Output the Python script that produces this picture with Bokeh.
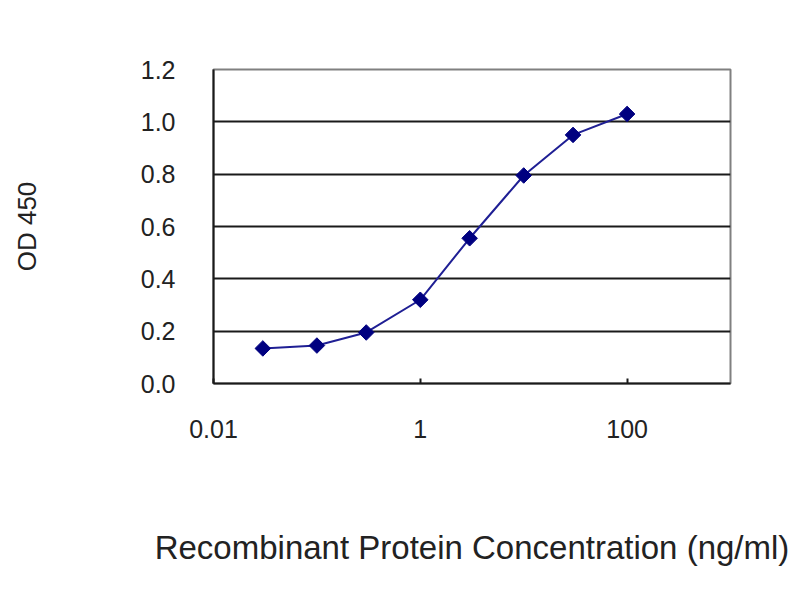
from bokeh.plotting import figure
from bokeh.models import FixedTicker, NumeralTickFormatter, Range1d
from bokeh.embed import file_html
from bokeh.resources import INLINE

# Data
concentration = [0.03, 0.1, 0.3, 1, 3, 10, 30, 100]
od450 = [0.134, 0.145, 0.195, 0.32, 0.555, 0.795, 0.95, 1.03]

x_tick_values = [0.01, 1, 100]
x_tick_labels = ["0.01", "1", "100"]
y_tick_values = [0.0, 0.2, 0.4, 0.6, 0.8, 1.0, 1.2]

x_title = "Recombinant Protein Concentration (ng/ml)"
y_title = "OD 450"

FONT = "Liberation Sans"
TEXT = "#222222"

p = figure(width=792, height=592, x_axis_type="log",
           x_range=Range1d(0.01, 1000), y_range=Range1d(0, 1.2),
           output_backend="svg", toolbar_location=None,
           min_border_left=213, min_border_right=62,
           min_border_top=69, min_border_bottom=209)

p.background_fill_color = "white"
p.border_fill_color = "white"
p.outline_line_color = "#808080"
p.outline_line_width = 2

# grid
p.xgrid.grid_line_color = None
p.ygrid.ticker = FixedTicker(ticks=y_tick_values)
p.ygrid.grid_line_color = "#1a1a1a"
p.ygrid.grid_line_width = 2

# x axis
xa = p.xaxis[0]
xa.ticker = FixedTicker(ticks=x_tick_values, minor_ticks=[])
xa.major_label_overrides = {v: l for v, l in zip(x_tick_values, x_tick_labels)}
xa.major_tick_in = 5
xa.major_tick_out = 0
xa.major_tick_line_color = "#1a1a1a"
xa.major_tick_line_width = 2
xa.minor_tick_line_color = None
xa.axis_line_color = "#1a1a1a"
xa.axis_line_width = 2
xa.major_label_text_font = FONT
xa.major_label_text_font_size = "25px"
xa.major_label_text_color = TEXT
xa.major_label_standoff = 36
xa.axis_label = x_title
xa.axis_label_text_font = FONT
xa.axis_label_text_font_size = "33px"
xa.axis_label_text_font_style = "normal"
xa.axis_label_text_color = TEXT
xa.axis_label_standoff = 88

# y axis
ya = p.yaxis[0]
ya.ticker = FixedTicker(ticks=y_tick_values, minor_ticks=[])
ya.formatter = NumeralTickFormatter(format="0.0")
ya.major_tick_in = 0
ya.major_tick_out = 0
ya.minor_tick_line_color = None
ya.axis_line_color = "#1a1a1a"
ya.axis_line_width = 2
ya.major_label_text_font = FONT
ya.major_label_text_font_size = "25px"
ya.major_label_text_color = TEXT
ya.major_label_standoff = 38
ya.axis_label = y_title
ya.axis_label_text_font = FONT
ya.axis_label_text_font_size = "26px"
ya.axis_label_text_font_style = "normal"
ya.axis_label_text_color = TEXT
ya.axis_label_standoff = 96

# series
p.line(concentration, od450, line_color="#1f1f94", line_width=2)
p.scatter(concentration, od450, marker="square", angle=0.785398, size=11,
          fill_color="#000080", line_color="#000080")

open("out.html", "w").write(file_html(p, INLINE))
